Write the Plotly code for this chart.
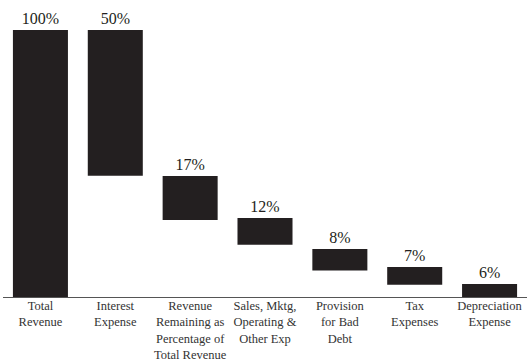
import plotly.graph_objects as go

categories = ["Total<br>Revenue", "Interest<br>Expense",
              "Revenue<br>Remaining as<br>Percentage of<br>Total Revenue",
              "Sales, Mktg,<br>Operating &<br>Other Exp",
              "Provision<br>for Bad<br>Debt", "Tax<br>Expenses",
              "Depreciation<br>Expense"]
labels = ["100%", "50%", "17%", "12%", "8%", "7%", "6%"]
bar_bottom = [0, 45.4, 28.8, 19.6, 9.9, 4.6, 0]
bar_top = [100, 100, 45.3, 29.6, 18.0, 11.2, 4.9]

heights = [t - b for t, b in zip(bar_top, bar_bottom)]
xs = list(range(len(categories)))

fig = go.Figure()
fig.add_trace(go.Bar(
    x=xs, y=heights, base=bar_bottom,
    marker=dict(color="#231f20", line=dict(width=0)),
    text=labels, textposition="outside", cliponaxis=False,
    textfont=dict(family="Liberation Serif", size=16, color="#231f20"),
    hoverinfo="skip",
))

fig.update_layout(
    width=527, height=360,
    margin=dict(l=3, r=0, t=30, b=63),
    paper_bgcolor="white", plot_bgcolor="white",
    bargap=0.265, showlegend=False,
    font=dict(family="Liberation Serif", color="#333333"),
    uniformtext=dict(minsize=16, mode="show"),
)
fig.update_xaxes(
    tickmode="array", tickvals=xs, ticktext=categories,
    range=[-0.5, len(categories) - 0.5],
    showline=True, linecolor="#555555", linewidth=1,
    showgrid=False, zeroline=False, ticks="", automargin=False,
    ticklabelstandoff=-3,
    tickfont=dict(family="Liberation Serif", size=12.5, color="#333333"),
)
fig.update_yaxes(range=[0, 100], visible=False, showgrid=False, zeroline=False,
                 automargin=False)

fig.write_html("out.html")
